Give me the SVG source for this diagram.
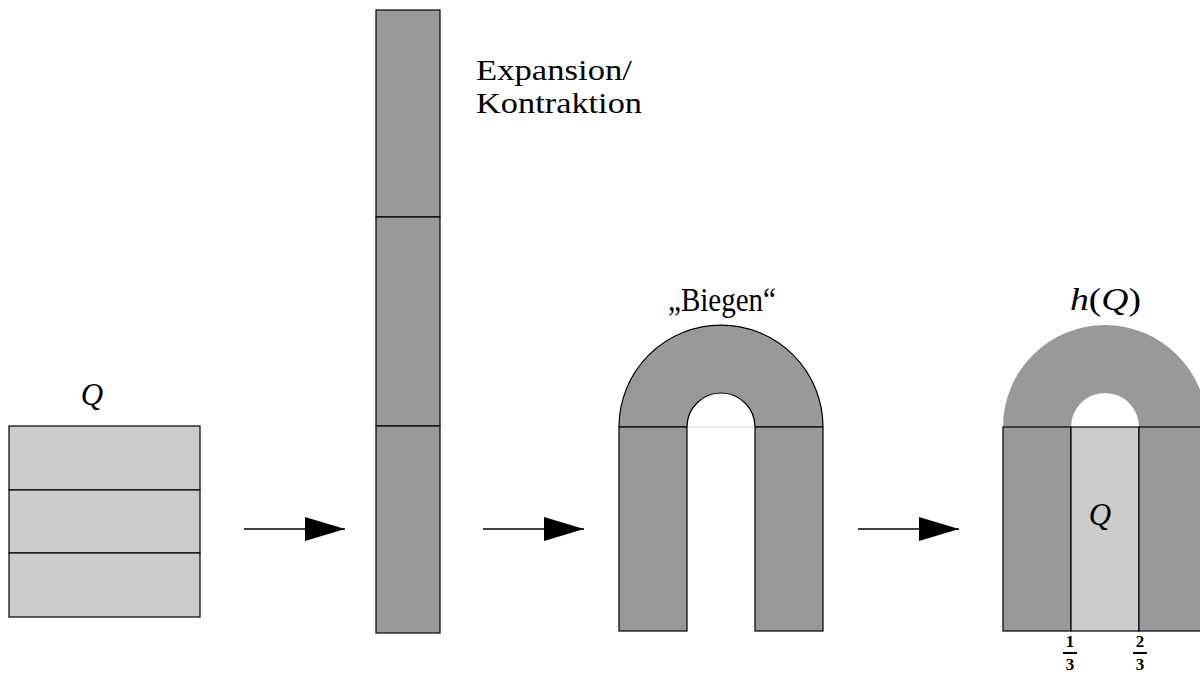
<svg xmlns="http://www.w3.org/2000/svg" width="1200" height="674" viewBox="0 0 1200 674">
  <style>
    .light { fill: #cccccc; stroke: #000; stroke-width: 1.2; }
    .dark { fill: #999999; stroke: #000; stroke-width: 1.2; }
    .lbl { font-family: "Liberation Serif", "DejaVu Serif", serif; font-size: 30px; fill: #000; }
    .big { font-size: 33px; }
    .math { font-family: "Liberation Serif", "DejaVu Serif", serif; font-size: 31px; fill: #000; }
    .it { font-style: italic; }
    .frac { font-family: "Liberation Serif", "DejaVu Serif", serif; font-size: 17px; font-weight: bold; fill: #000; text-anchor: middle; }
    .bar { stroke: #000; stroke-width: 2; }
    .conn line { stroke: #000; stroke-width: 1.5; }
  </style>
  <defs>
    <marker id="head" markerWidth="40" markerHeight="24" refX="40" refY="12" markerUnits="userSpaceOnUse" orient="auto">
      <polygon points="0,0 40,12 0,24" fill="#000"/>
    </marker>
  </defs>
  <rect width="1200" height="674" fill="#fff"/>

  <!-- Square Q split into three horizontal strips -->
  <g id="square">
    <rect class="light" x="9" y="426" width="191" height="64"/>
    <rect class="light" x="9" y="490" width="191" height="63"/>
    <rect class="light" x="9" y="553" width="191" height="64"/>
    <text class="math it" x="92" y="405" text-anchor="middle">Q</text>
  </g>

  <!-- Stretched and contracted strip -->
  <g id="stretched">
    <rect class="dark" x="376" y="10" width="64" height="207"/>
    <rect class="dark" x="376" y="217" width="64" height="209"/>
    <rect class="dark" x="376" y="426" width="64" height="207"/>
    <text class="lbl" x="476" y="80" textLength="156" lengthAdjust="spacingAndGlyphs">Expansion/</text>
    <text class="lbl" x="476" y="113" textLength="166" lengthAdjust="spacingAndGlyphs">Kontraktion</text>
  </g>

  <!-- Bent horseshoe -->
  <g id="bent">
    <path class="dark" d="M619,427 A102,102 0 0 1 823,427 L755,427 A34,34 0 0 0 687,427 Z"/>
    <line x1="687" y1="427" x2="755" y2="427" stroke="#dddddd" stroke-width="1"/>
    <rect class="dark" x="619" y="427" width="68" height="204"/>
    <rect class="dark" x="755" y="427" width="68" height="204"/>
    <text class="lbl big" x="668" y="311" textLength="108" lengthAdjust="spacingAndGlyphs">„Biegen“</text>
  </g>

  <!-- Image h(Q) over the square -->
  <g id="image">
    <path d="M1003,427 A102,102 0 0 1 1207,427 L1139,427 A34,34 0 0 0 1071,427 Z" fill="#999999"/>
    <rect class="dark" x="1003" y="427" width="68" height="204"/>
    <rect class="light" x="1071" y="427" width="68" height="204"/>
    <rect class="dark" x="1139" y="427" width="68" height="204"/>
    <text class="math" x="1070" y="310" textLength="71" lengthAdjust="spacingAndGlyphs"><tspan class="it">h</tspan>(<tspan class="it">Q</tspan>)</text>
    <text class="math it" x="1100" y="525" text-anchor="middle">Q</text>
    <text class="frac" x="1070" y="647">1</text>
    <line class="bar" x1="1063" y1="653" x2="1077" y2="653"/>
    <text class="frac" x="1070" y="670">3</text>
    <text class="frac" x="1140" y="647">2</text>
    <line class="bar" x1="1133" y1="653" x2="1147" y2="653"/>
    <text class="frac" x="1140" y="670">3</text>
  </g>

  <!-- Arrows between stages -->
  <g id="connectors" class="conn">
    <line x1="244" y1="529" x2="345" y2="529" marker-end="url(#head)"/>
    <line x1="483" y1="529" x2="584" y2="529" marker-end="url(#head)"/>
    <line x1="858" y1="529" x2="959" y2="529" marker-end="url(#head)"/>
  </g>
</svg>
